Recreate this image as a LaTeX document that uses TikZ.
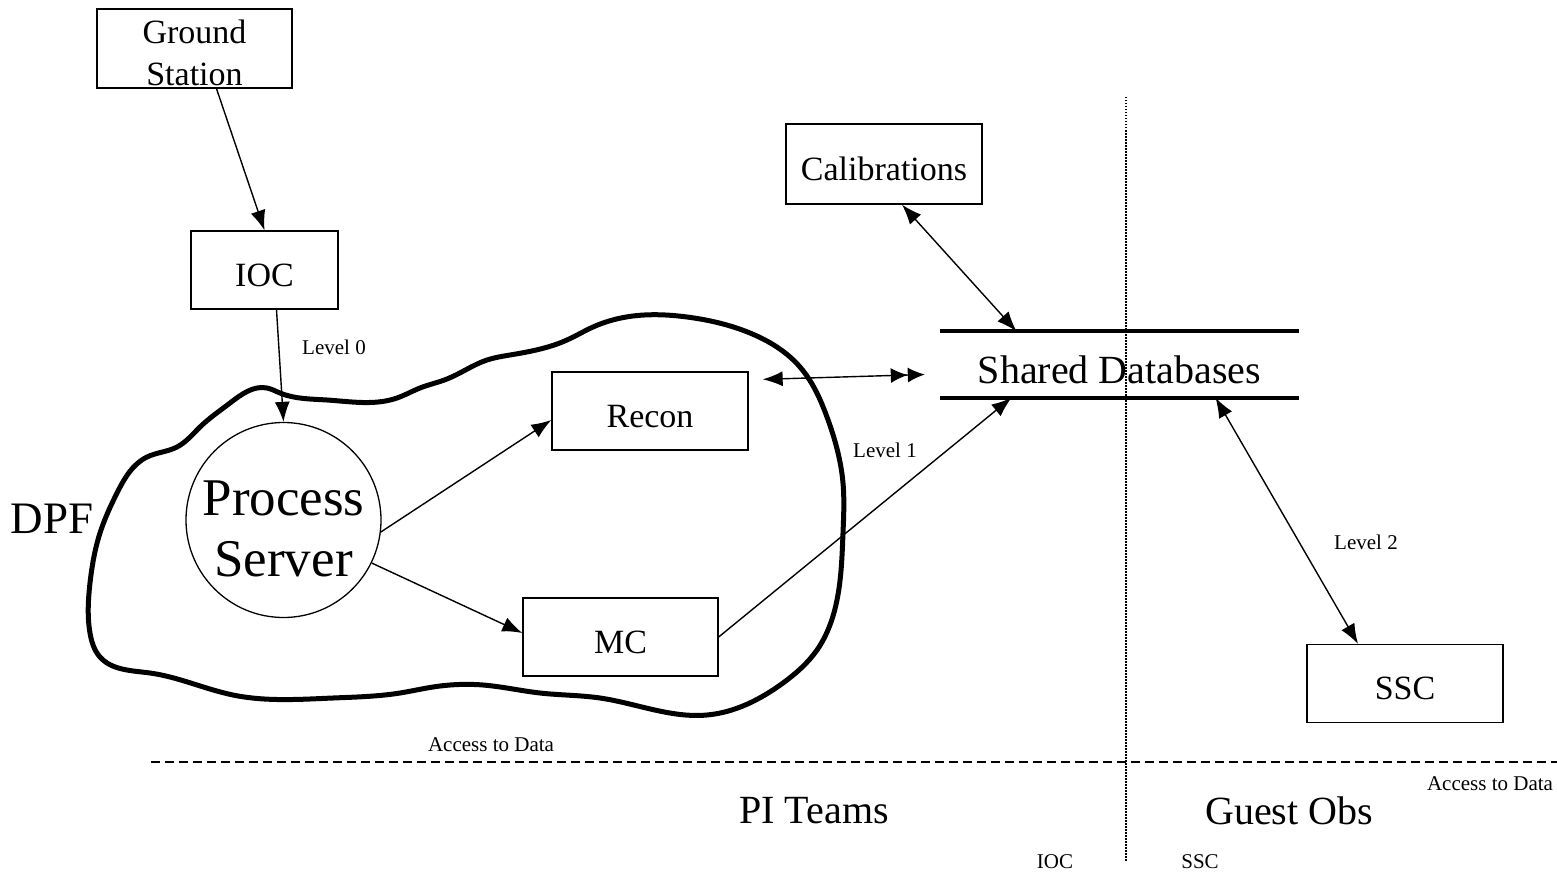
\documentclass[tikz,border=0pt]{standalone}
\usepackage{fontspec}
\setmainfont{Liberation Serif}
\usepackage{tikz}
\usetikzlibrary{hobby, arrows.meta, calc}

\begin{document}
\begin{tikzpicture}[x=1pt,y=-1pt, use Hobby shortcut,
    >={Latex[length=20pt,width=15pt]},
    box/.style={draw, line width=1.3pt, minimum width=196pt, minimum height=78pt,
                inner sep=0pt, text height=32pt, text depth=0pt,
                font=\fontsize{34}{42}\selectfont},
    link/.style={line width=1.4pt},
    lvl/.style={font=\fontsize{21}{25}\selectfont},
    big/.style={font=\fontsize{40}{48}\selectfont},
    dbstore/.style={minimum width=359pt, minimum height=66pt, inner sep=0pt,
                text height=37pt, text depth=0pt, font=\fontsize{40}{48}\selectfont,
                append after command={
                  (\tikzlastnode.north west) edge[line width=4pt] (\tikzlastnode.north east)
                  (\tikzlastnode.south west) edge[line width=4pt] (\tikzlastnode.south east)}}]
    \useasboundingbox (0,0) rectangle (1557,872);

    % the DPF outline
    \draw [line width=5pt, closed=true] (267,388) .. (280,393) .. (327,400) .. (397,398) ..
            (420,388) .. (447,379) .. (487,360) .. (510,355) .. (567,340) .. (593,327) ..
            (633,316) .. (687,317) .. (750,333) .. (800,367) .. (827,417) .. (843,483) ..
            (843,533) .. (837,600) .. (817,650) .. (783,683) .. (707,715) .. (600,698) ..
            (540,693) .. (483,685) .. (433,687) .. (400,693) .. (333,698) .. (233,695) ..
            (150,673) .. (100,657) .. (90,633) .. (90,583) .. (100,533) .. (117,493) ..
            (147,457) .. (177,447) .. (200,427) .. (230,403);

    % boundaries
    \draw [line width=1.8pt, dash pattern=on 9pt off 5pt] (151,762) -- (1557,762);
    \draw [line width=1.5pt, dash pattern=on 1.5pt off 1.5pt] (1126,97) -- (1126,862);

    \node [box, minimum height=79pt, minimum width=195pt,
           label={[name=gslabel, align=center, font=\fontsize{34}{42}\selectfont, yshift=-4pt]center:Ground\\Station}]
           (gs) at (194.5,48.5) {};
    \node [box, minimum width=147pt] (ioc) at (264.5,270) {IOC};
    \node [draw, circle, line width=1.3pt, minimum size=195pt, inner sep=0pt,
           label={[name=pslabel, align=center, font=\fontsize{53}{61}\selectfont, yshift=-9pt]center:Process\\Server}]
           (ps) at (283.5,520) {};
    \node [box] (recon) at (650,411) {Recon};
    \node [box, minimum width=195pt] (mc) at (620.5,637) {MC};
    \node [box, minimum height=80pt] (calib) at (884,164) {Calibrations};
    \node [box] (ssc) at (1405,683.5) {SSC};
    \node [dbstore] (db) at (1119.5,364.5) {Shared Databases};

    \node [font=\fontsize{45}{50}\selectfont, anchor=base] (dpf) at (52,533) {DPF};
    \node [lvl] (l0) at (334,347) {Level 0};
    \node [lvl] (l1) at (885,450) {Level 1};
    \node [lvl] (l2) at (1366,542) {Level 2};
    \node [lvl] (acc1) at (491,745) {Access to Data};
    \node [lvl] (acc2) at (1490,784) {Access to Data};
    \node [big] (pi) at (814,811) {PI Teams};
    \node [big] (go) at (1289,811) {Guest Obs};
    \node [lvl] (iocb) at (1055,862) {IOC};
    \node [lvl] (sscb) at (1200,862) {SSC};

    \draw [link, ->] ([xshift=22pt]gs.south) -- (ioc.north);
    \draw [link, ->] ([xshift=12pt]ioc.south) -- (ps.north);
    \draw [link, ->] (ps.-7) -- ([yshift=-9pt]recon.west);
    \draw [link, ->] (ps.-26) -- ([yshift=4pt]mc.west);
    \draw [link, ->] (mc.east) -- ([xshift=-108pt]db.south);
    \draw [link, <-{Latex[length=17pt,width=15pt] Latex[length=17pt,width=15pt]}]
          ([xshift=14pt,yshift=-8pt]recon.north east) -- ([xshift=-15pt,yshift=-10pt]db.west);
    \draw [link, <->] ([xshift=18pt]calib.south) -- ([xshift=-103pt]db.north);
    \draw [link, <->] ([xshift=96pt]db.south) -- ([xshift=-47pt]ssc.north);
\end{tikzpicture}
\end{document}
